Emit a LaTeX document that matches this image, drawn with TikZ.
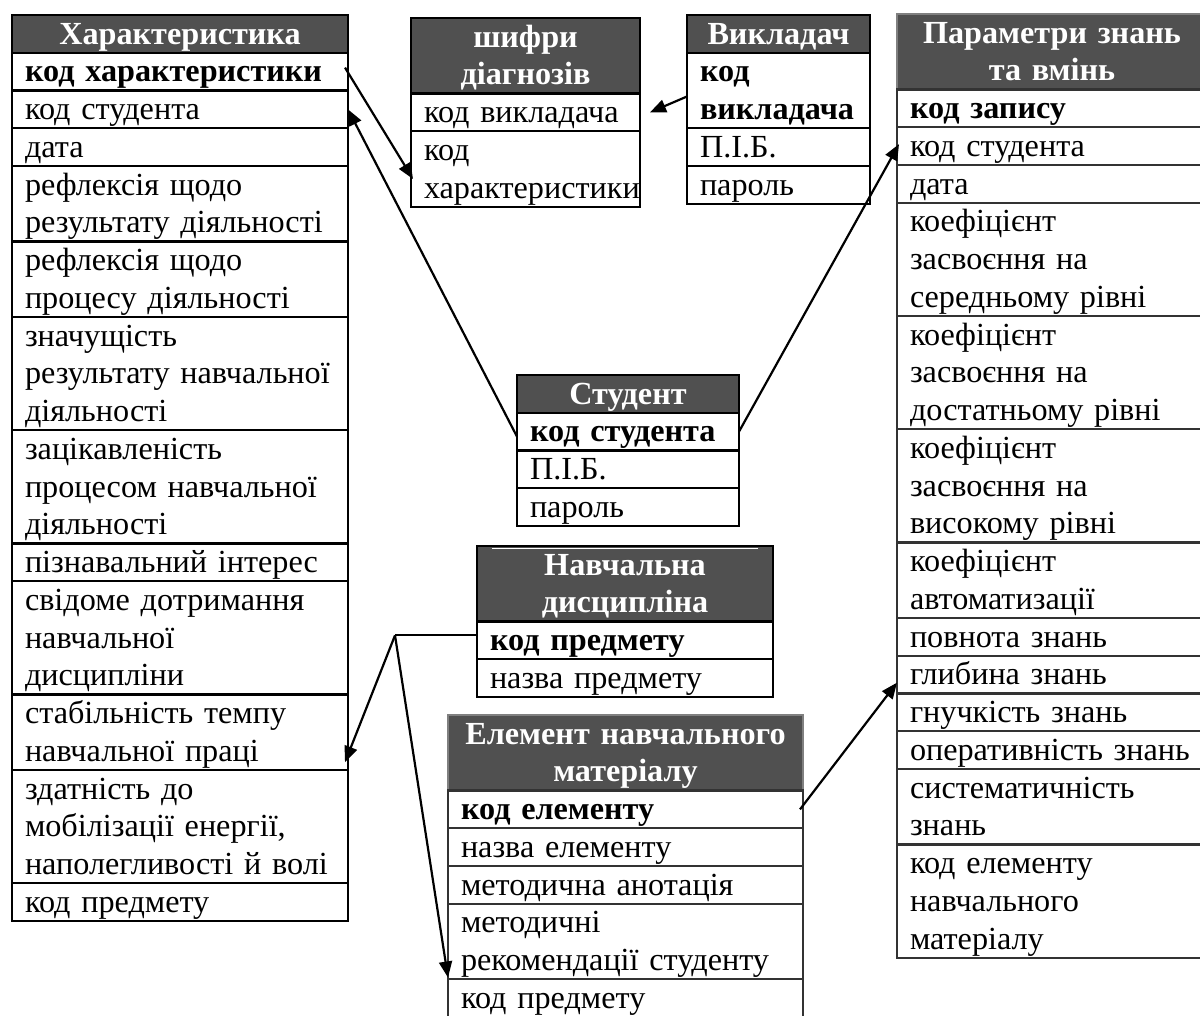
\documentclass[tikz,border=0pt]{standalone}
\usepackage{fontspec}
\setmainfont{Liberation Serif}
\usetikzlibrary{positioning,arrows.meta}
\definecolor{hdrgray}{RGB}{80,80,80}
\newcommand\cellfont{\fontsize{16.1pt}{18.875pt}\selectfont}
\newcommand\rowstrut{\rule[-4.3pt]{0pt}{18.875pt}}
\tikzset{
  cell/.style={draw, line width=1.1pt, outer sep=0pt, inner sep=0pt, text width=#1, align=left, font=\cellfont,
    execute at begin node={\leftskip=6.5pt\relax\rowstrut}, execute at end node={\rowstrut}},
  pkcell/.style={cell=#1, font=\cellfont\bfseries},
  hdr/.style={draw, line width=1.1pt, fill=hdrgray, text=white, outer sep=0pt, inner sep=0pt, text width=#1, align=center,
    font=\cellfont\bfseries, execute at begin node={\rowstrut}, execute at end node={\rowstrut}},
  fklink/.style={line width=1.1pt, -{Triangle[length=8pt,width=6.5pt]}},
}
\begin{document}
\begin{tikzpicture}[x=0.5pt,y=-0.5pt]
\useasboundingbox (0,0) rectangle (1200,1016);
\clip (0,0) rectangle (1200,1016);

% Характеристика
\node[hdr=168pt, anchor=north west] (ch) at (12,15) {Характеристика};
\node[pkcell=168pt, below=0pt of ch] (ch1) {код характеристики};
\node[cell=168pt, below=0pt of ch1] (ch2) {код студента};
\node[cell=168pt, below=0pt of ch2] (ch3) {дата};
\node[cell=168pt, below=0pt of ch3] (ch4) {рефлексія щодо\\результату діяльності};
\node[cell=168pt, below=0pt of ch4] (ch5) {рефлексія щодо\\процесу діяльності};
\node[cell=168pt, below=0pt of ch5] (ch6) {значущість\\результату навчальної\\діяльності};
\node[cell=168pt, below=0pt of ch6] (ch7) {зацікавленість\\процесом навчальної\\діяльності};
\node[cell=168pt, below=0pt of ch7] (ch8) {пізнавальний інтерес};
\node[cell=168pt, below=0pt of ch8] (ch9) {свідоме дотримання\\навчальної\\дисципліни};
\node[cell=168pt, below=0pt of ch9] (ch10) {стабільність темпу\\навчальної праці};
\node[cell=168pt, below=0pt of ch10] (ch11) {здатність до\\мобілізації енергії,\\наполегливості й волі};
\node[cell=168pt, below=0pt of ch11] (ch12) {код предмету};

% шифри діагнозів
\node[hdr=114.5pt, anchor=north west] (sh) at (411,18) {шифри\\діагнозів};
\node[cell=114.5pt, below=0pt of sh] (sh1) {код викладача};
\node[cell=114.5pt, below=0pt of sh1] (sh2) {код\\характеристики};

% Викладач
\node[hdr=91.5pt, anchor=north west] (vh) at (687,15) {Викладач};
\node[pkcell=91.5pt, below=0pt of vh] (vh1) {код\\викладача};
\node[cell=91.5pt, below=0pt of vh1] (vh2) {П.І.Б.};
\node[cell=91.5pt, below=0pt of vh2] (vh3) {пароль};

% Параметри знань та вмінь
\node[hdr=155pt, draw=gray, anchor=north west] (ph) at (897,14) {Параметри знань\\та вмінь};
\node[pkcell=155pt, draw=black!80, below=0pt of ph] (ph1) {код запису};
\node[cell=155pt, draw=black!80, below=0pt of ph1] (ph2) {код студента};
\node[cell=155pt, draw=black!80, below=0pt of ph2] (ph3) {дата};
\node[cell=155pt, draw=black!80, below=0pt of ph3] (ph4) {коефіцієнт\\засвоєння на\\середньому рівні};
\node[cell=155pt, draw=black!80, below=0pt of ph4] (ph5) {коефіцієнт\\засвоєння на\\достатньому рівні};
\node[cell=155pt, draw=black!80, below=0pt of ph5] (ph6) {коефіцієнт\\засвоєння на\\високому рівні};
\node[cell=155pt, draw=black!80, below=0pt of ph6] (ph7) {коефіцієнт\\автоматизації};
\node[cell=155pt, draw=black!80, below=0pt of ph7] (ph8) {повнота знань};
\node[cell=155pt, draw=black!80, below=0pt of ph8] (ph9) {глибина знань};
\node[cell=155pt, draw=black!80, below=0pt of ph9] (ph10) {гнучкість знань};
\node[cell=155pt, draw=black!80, below=0pt of ph10] (ph11) {оперативність знань};
\node[cell=155pt, draw=black!80, below=0pt of ph11] (ph12) {систематичність\\знань};
\node[cell=155pt, draw=black!80, below=0pt of ph12] (ph13) {код елементу\\навчального\\матеріалу};

% Студент
\node[hdr=111pt, anchor=north west] (st) at (517,375) {Студент};
\node[pkcell=111pt, below=0pt of st] (st1) {код студента};
\node[cell=111pt, below=0pt of st1] (st2) {П.І.Б.};
\node[cell=111pt, below=0pt of st2] (st3) {пароль};

% Навчальна дисципліна
\node[hdr=148pt, anchor=north west] (nd) at (477,546) {Навчальна\\дисципліна};
\draw[white, line width=0.6pt] ([xshift=7.5pt,yshift=-1.4pt]nd.north west) -- ([xshift=-7.5pt,yshift=-1.4pt]nd.north east);
\node[pkcell=148pt, below=0pt of nd] (nd1) {код предмету};
\node[cell=148pt, below=0pt of nd1] (nd2) {назва предмету};

% Елемент навчального матеріалу
\node[hdr=177.5pt, draw=gray, anchor=north west] (el) at (448,715) {Елемент навчального\\матеріалу};
\node[pkcell=177.5pt, draw=black!80, below=0pt of el] (el1) {код елементу};
\node[cell=177.5pt, draw=black!80, below=0pt of el1] (el2) {назва елементу};
\node[cell=177.5pt, draw=black!80, below=0pt of el2] (el3) {методична анотація};
\node[cell=177.5pt, draw=black!80, below=0pt of el3] (el4) {методичні\\рекомендації студенту};
\node[cell=177.5pt, draw=black!80, below=0pt of el4] (el5) {код предмету};

% Зв'язки
\draw[fklink] ([xshift=-1.5pt,yshift=2pt]ch1.east) -- ([xshift=1pt,yshift=-5pt]sh2.west);
\draw[fklink] ([yshift=-2.5pt]st1.west) -- (ch2.east);
\draw[fklink] ([yshift=-3pt]vh1.west) -- ([xshift=5pt]sh1.east);
\draw[fklink] (st1.east) -- ([xshift=1pt,yshift=1pt]ph2.west);
\coordinate (jn) at ([xshift=-41pt,yshift=2.5pt]nd1.west);
\draw[line width=1.1pt] ([yshift=2.5pt]nd1.west) -- (jn);
\draw[fklink] (jn) -- ([xshift=-1.5pt,yshift=-15pt]ch10.east);
\draw[fklink] (jn) -- ([yshift=-18pt]el4.west);
\draw[fklink] ([xshift=-1.5pt]el1.east) -- ([yshift=-4pt]ph9.west);

\end{tikzpicture}
\end{document}
